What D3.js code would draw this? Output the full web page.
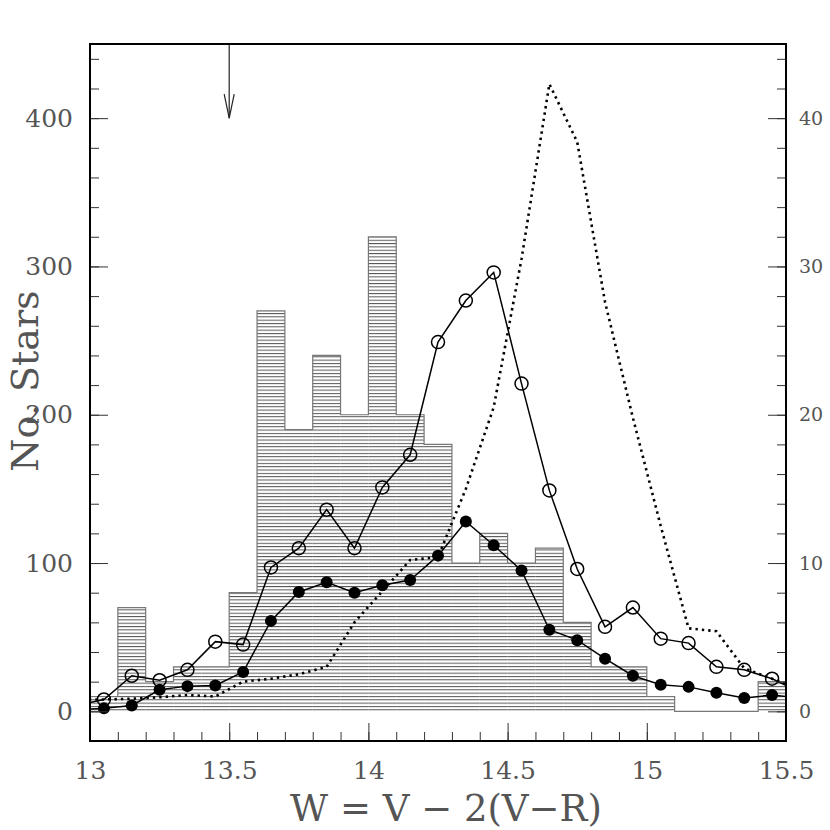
<!DOCTYPE html>
<html>
<head>
<meta charset="utf-8">
<script src="https://cdn.jsdelivr.net/npm/d3@7/dist/d3.min.js"></script>
<style>
  body { margin: 0; background: #fff; }
  text { font-family: "DejaVu Serif", "Liberation Serif", serif; fill: #555; }
</style>
</head>
<body>
<div class="chart"></div>
<script>
// histogram bins (lower edges, width 0.1) and counts (left axis)
const binStart = [13.0, 13.1, 13.2, 13.3, 13.4, 13.5, 13.6, 13.7, 13.8, 13.9, 14.0, 14.1, 14.2,
                  14.3, 14.4, 14.5, 14.6, 14.7, 14.8, 14.9, 15.0, 15.1, 15.2, 15.3, 15.4];
const histCounts = [10, 70, 20, 30, 30, 80, 270, 190, 240, 200, 320, 200, 180,
                    100, 120, 100, 110, 60, 30, 30, 10, 0, 0, 0, 20];

// point series at bin centres (first and last points lie outside the frame and are clipped)
const pointX = [12.95, 13.05, 13.15, 13.25, 13.35, 13.45, 13.55, 13.65, 13.75, 13.85, 13.95, 14.05, 14.15, 14.25,
                14.35, 14.45, 14.55, 14.65, 14.75, 14.85, 14.95, 15.05, 15.15, 15.25, 15.35, 15.45, 15.55];
// right axis units
const openStars = [0.4, 0.8, 2.4, 2.1, 2.8, 4.7, 4.5, 9.7, 11.0, 13.6, 11.0, 15.1, 17.3, 24.9,
                   27.7, 29.6, 22.1, 14.9, 9.6, 5.7, 7.0, 4.9, 4.6, 3.0, 2.8, 2.2, 1.3];
const filledStars = [0.1, 0.2, 0.4, 1.45, 1.7, 1.75, 2.65, 6.1, 8.05, 8.7, 8.0, 8.5, 8.85, 10.5,
                     12.8, 11.2, 9.5, 5.5, 4.8, 3.55, 2.4, 1.8, 1.65, 1.25, 0.9, 1.1, 0.9];
// left axis units
const dottedModel = [8, 8, 8.5, 9.5, 11, 10, 20, 22, 25, 30, 60, 81, 102, 104,
                     150, 205, 305, 423, 384, 276, 198, 125, 56, 54, 29, 22, 15];

const arrowX = 13.5, arrowTip = 400;

const xTicksMajor = [13, 13.5, 14, 14.5, 15, 15.5];
const yTicksMajor = [0, 100, 200, 300, 400];
const yRTicksMajor = [0, 10, 20, 30, 40];

const width = 830, height = 830;
const margin = {top: 44, right: 44, bottom: 89, left: 90};

const svg = d3.select('.chart').append('svg')
  .attr('width', width)
  .attr('height', height);

const x = d3.scaleLinear().domain([13, 15.5]).range([margin.left, width - margin.right]);
const y = d3.scaleLinear().domain([-20, 450]).range([height - margin.bottom, margin.top]);
const yR = d3.scaleLinear().domain([-2, 45]).range([height - margin.bottom, margin.top]);

const defs = svg.append('defs');
defs.append('clipPath').attr('id', 'plot')
  .append('rect')
  .attr('x', margin.left).attr('y', margin.top)
  .attr('width', width - margin.left - margin.right)
  .attr('height', height - margin.top - margin.bottom);

const pat = defs.append('pattern').attr('id', 'hatch')
  .attr('patternUnits', 'userSpaceOnUse')
  .attr('width', 10).attr('height', 3.33);
pat.append('line')
  .attr('x1', 0).attr('x2', 10).attr('y1', 0.5).attr('y2', 0.5)
  .attr('stroke', '#555').attr('stroke-width', 1);

const plot = svg.append('g').attr('clip-path', 'url(#plot)');

// hatched histogram
plot.selectAll('rect.bin')
  .data(binStart)
  .enter()
  .append('rect')
  .attr('class', 'bin')
  .attr('x', d => x(d))
  .attr('width', d => x(d + 0.1) - x(d))
  .attr('y', (d, i) => y(histCounts[i]))
  .attr('height', (d, i) => y(0) - y(histCounts[i]))
  .attr('fill', 'url(#hatch)');

const stepPts = binStart.map((d, i) => [d, histCounts[i]]);
stepPts.push([15.5, histCounts[histCounts.length - 1]]);
plot.append('path')
  .datum(stepPts)
  .attr('d', d3.line().x(d => x(d[0])).y(d => y(d[1])).curve(d3.curveStepAfter))
  .attr('fill', 'none')
  .attr('stroke', '#777')
  .attr('stroke-width', 1.2);

// dotted model curve
plot.append('path')
  .datum(pointX.map((d, i) => [d, dottedModel[i]]))
  .attr('d', d3.line().x(d => x(d[0])).y(d => y(d[1])))
  .attr('fill', 'none')
  .attr('stroke', '#000')
  .attr('stroke-width', 2.6)
  .attr('stroke-dasharray', '2.4,4');

const lineR = d3.line().x(d => x(d[0])).y(d => yR(d[1]));

plot.append('path')
  .datum(pointX.map((d, i) => [d, openStars[i]]))
  .attr('d', lineR)
  .attr('fill', 'none').attr('stroke', '#000').attr('stroke-width', 1.5);

plot.append('path')
  .datum(pointX.map((d, i) => [d, filledStars[i]]))
  .attr('d', lineR)
  .attr('fill', 'none').attr('stroke', '#000').attr('stroke-width', 1.5);

plot.selectAll('circle.open')
  .data(pointX)
  .enter()
  .append('circle')
  .attr('class', 'open')
  .attr('cx', d => x(d))
  .attr('cy', (d, i) => yR(openStars[i]))
  .attr('r', 6.5)
  .attr('fill', 'none')
  .attr('stroke', '#000')
  .attr('stroke-width', 1.5);

plot.selectAll('circle.filled')
  .data(pointX)
  .enter()
  .append('circle')
  .attr('class', 'filled')
  .attr('cx', d => x(d))
  .attr('cy', (d, i) => yR(filledStars[i]))
  .attr('r', 6)
  .attr('fill', '#000');

// arrow
const ax = x(arrowX), ay = y(arrowTip);
svg.append('line')
  .attr('x1', ax).attr('x2', ax).attr('y1', margin.top).attr('y2', ay)
  .attr('stroke', '#222').attr('stroke-width', 1.2);
svg.append('path')
  .attr('d', `M${ax - 5},${ay - 24} L${ax},${ay} L${ax + 5},${ay - 24}`)
  .attr('fill', 'none').attr('stroke', '#222').attr('stroke-width', 1.2);

// axes
function styleAxis(g) {
  g.select('.domain').remove();
  g.selectAll('.tick line').attr('stroke', '#333').attr('stroke-width', 1);
  g.selectAll('.tick text').attr('fill', '#555');
}

const xMinor = d3.range(13, 15.501, 0.1);
const yMinor = d3.range(-20, 451, 20);
const yRMinor = d3.range(-2, 45.1, 2);

svg.append('g')
  .attr('transform', `translate(0,${height - margin.bottom})`)
  .call(d3.axisBottom(x).tickValues(xMinor).tickSizeInner(-9).tickSizeOuter(0).tickFormat(''))
  .call(styleAxis);
svg.append('g')
  .attr('transform', `translate(0,${height - margin.bottom})`)
  .call(d3.axisBottom(x).tickValues(xTicksMajor).tickSizeInner(-18).tickSizeOuter(0).tickPadding(20).tickFormat(d3.format('')))
  .call(styleAxis)
  .selectAll('text').style('font-size', '25px');

svg.append('g')
  .attr('transform', `translate(${margin.left},0)`)
  .call(d3.axisLeft(y).tickValues(yMinor).tickSizeInner(-9).tickSizeOuter(0).tickFormat(''))
  .call(styleAxis);
svg.append('g')
  .attr('transform', `translate(${margin.left},0)`)
  .call(d3.axisLeft(y).tickValues(yTicksMajor).tickSizeInner(-18).tickSizeOuter(0).tickPadding(17))
  .call(styleAxis)
  .selectAll('text').style('font-size', '25px');

svg.append('g')
  .attr('transform', `translate(${width - margin.right},0)`)
  .call(d3.axisRight(yR).tickValues(yRMinor).tickSizeInner(-9).tickSizeOuter(0).tickFormat(''))
  .call(styleAxis);
svg.append('g')
  .attr('transform', `translate(${width - margin.right},0)`)
  .call(d3.axisRight(yR).tickValues(yRTicksMajor).tickSizeInner(-18).tickSizeOuter(0).tickPadding(13))
  .call(styleAxis)
  .selectAll('text').style('font-size', '19px');

// frame
svg.append('rect')
  .attr('x', margin.left).attr('y', margin.top)
  .attr('width', width - margin.left - margin.right)
  .attr('height', height - margin.top - margin.bottom)
  .attr('fill', 'none').attr('stroke', '#000').attr('stroke-width', 2);

// labels
svg.append('text')
  .attr('x', 446)
  .attr('y', 821)
  .attr('text-anchor', 'middle')
  .style('font-size', '37px')
  .text('W = V − 2(V−R)');

svg.append('text')
  .attr('transform', 'translate(38,381) rotate(-90)')
  .attr('text-anchor', 'middle')
  .style('font-size', '38px')
  .text('No. Stars');
</script>
</body>
</html>
